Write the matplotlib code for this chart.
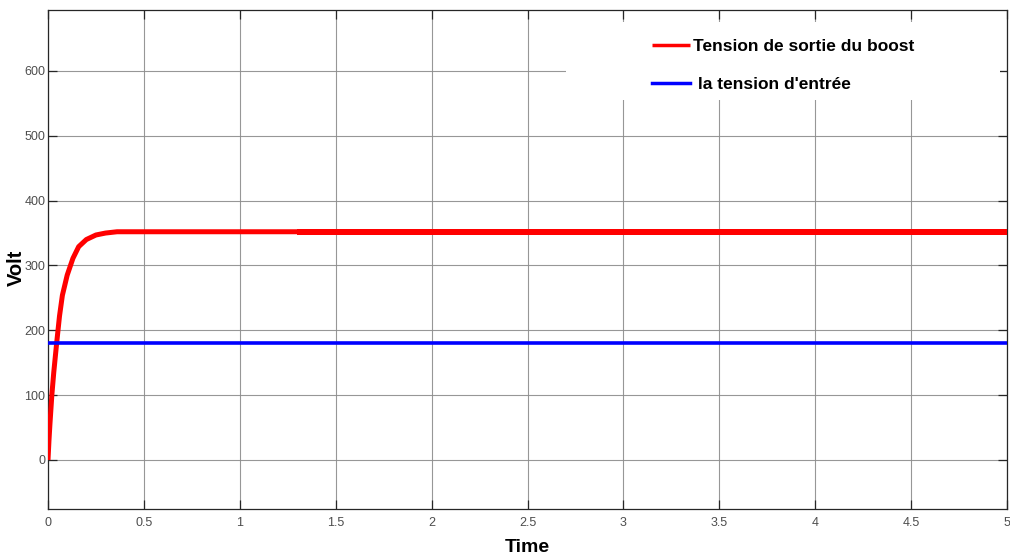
import matplotlib
matplotlib.use("Agg")
import matplotlib.pyplot as plt
from matplotlib.patches import Rectangle

# ---- data ----
t_out = [0, 0.005, 0.01, 0.02, 0.03, 0.045, 0.06, 0.075, 0.1, 0.13, 0.16, 0.2, 0.25, 0.3, 0.36, 0.45, 0.6, 1.3, 5.0]
v_out = [0, 30, 55, 100, 135, 180, 222, 254, 285, 311, 329, 340, 347, 350, 352, 352, 352, 352, 352]
t_in = [0, 5.0]
v_in = [180, 180]
ripple_t = [1.3, 5.0]
ripple_lo = [347.2, 347.2]
ripple_hi = [356.8, 356.8]

xticks = [0, 0.5, 1, 1.5, 2, 2.5, 3, 3.5, 4, 4.5, 5]
xticklabels = ["0", "0.5", "1", "1.5", "2", "2.5", "3", "3.5", "4", "4.5", "5"]
yticks = [0, 100, 200, 300, 400, 500, 600]
yticklabels = ["0", "100", "200", "300", "400", "500", "600"]
labels = ["Tension de sortie du boost", " la tension d'entrée"]

plt.rcParams["font.family"] = ["Liberation Sans", "DejaVu Sans"]

fig = plt.figure(figsize=(10.1, 5.6), dpi=100)
ax = fig.add_axes([48 / 1010, 1 - 509 / 560, 959 / 1010, 499 / 560])

l1, = ax.plot(t_out, v_out, color="#ff0000", lw=3.6, solid_capstyle="butt", zorder=3)
ax.fill_between(ripple_t, ripple_lo, ripple_hi, color="#ff0000", lw=0, zorder=3)
l2, = ax.plot(t_in, v_in, color="#0000ff", lw=2.6, zorder=3)

ax.set_xlim(0, 5)
ax.set_ylim(-75.6, 694)
ax.set_xticks(xticks)
ax.set_xticklabels(xticklabels)
ax.set_yticks(yticks)
ax.set_yticklabels(yticklabels)

ax.grid(True, color="#8c8c8c", lw=0.8, alpha=0.9)
ax.set_axisbelow(True)
ax.tick_params(direction="in", length=6.5, width=0.9, color="#262626",
               top=True, right=True, labelsize=9, labelcolor="#4d4d4d")
ax.tick_params(axis="x", pad=6)
ax.tick_params(axis="y", pad=2)
for s in ax.spines.values():
    s.set_color("#262626")
    s.set_linewidth(0.9)

ax.set_ylabel("Volt", fontsize=14.5, fontweight="bold")
ax.yaxis.set_label_coords(-0.0235, 0.483)
ax.set_xlabel("Time", fontsize=14, fontweight="bold")
ax.xaxis.set_label_coords(0.4995, -0.060)

# legend background (no frame)
ax.add_patch(Rectangle((0.540, 0.820), 0.453, 0.156, transform=ax.transAxes,
                       facecolor="white", edgecolor="none", zorder=2.5))
leg = ax.legend([l1, l2], labels, loc="upper left", bbox_to_anchor=(0.630, 0.942),
                frameon=False, prop={"size": 12.5, "weight": "bold"},
                handlelength=2.2, handletextpad=0.15,
                labelspacing=1.31, borderaxespad=0, borderpad=0)
for h in leg.legend_handles:
    h.set_linewidth(2.5)
leg.set_zorder(4)

fig.savefig("out.png", dpi=100)
